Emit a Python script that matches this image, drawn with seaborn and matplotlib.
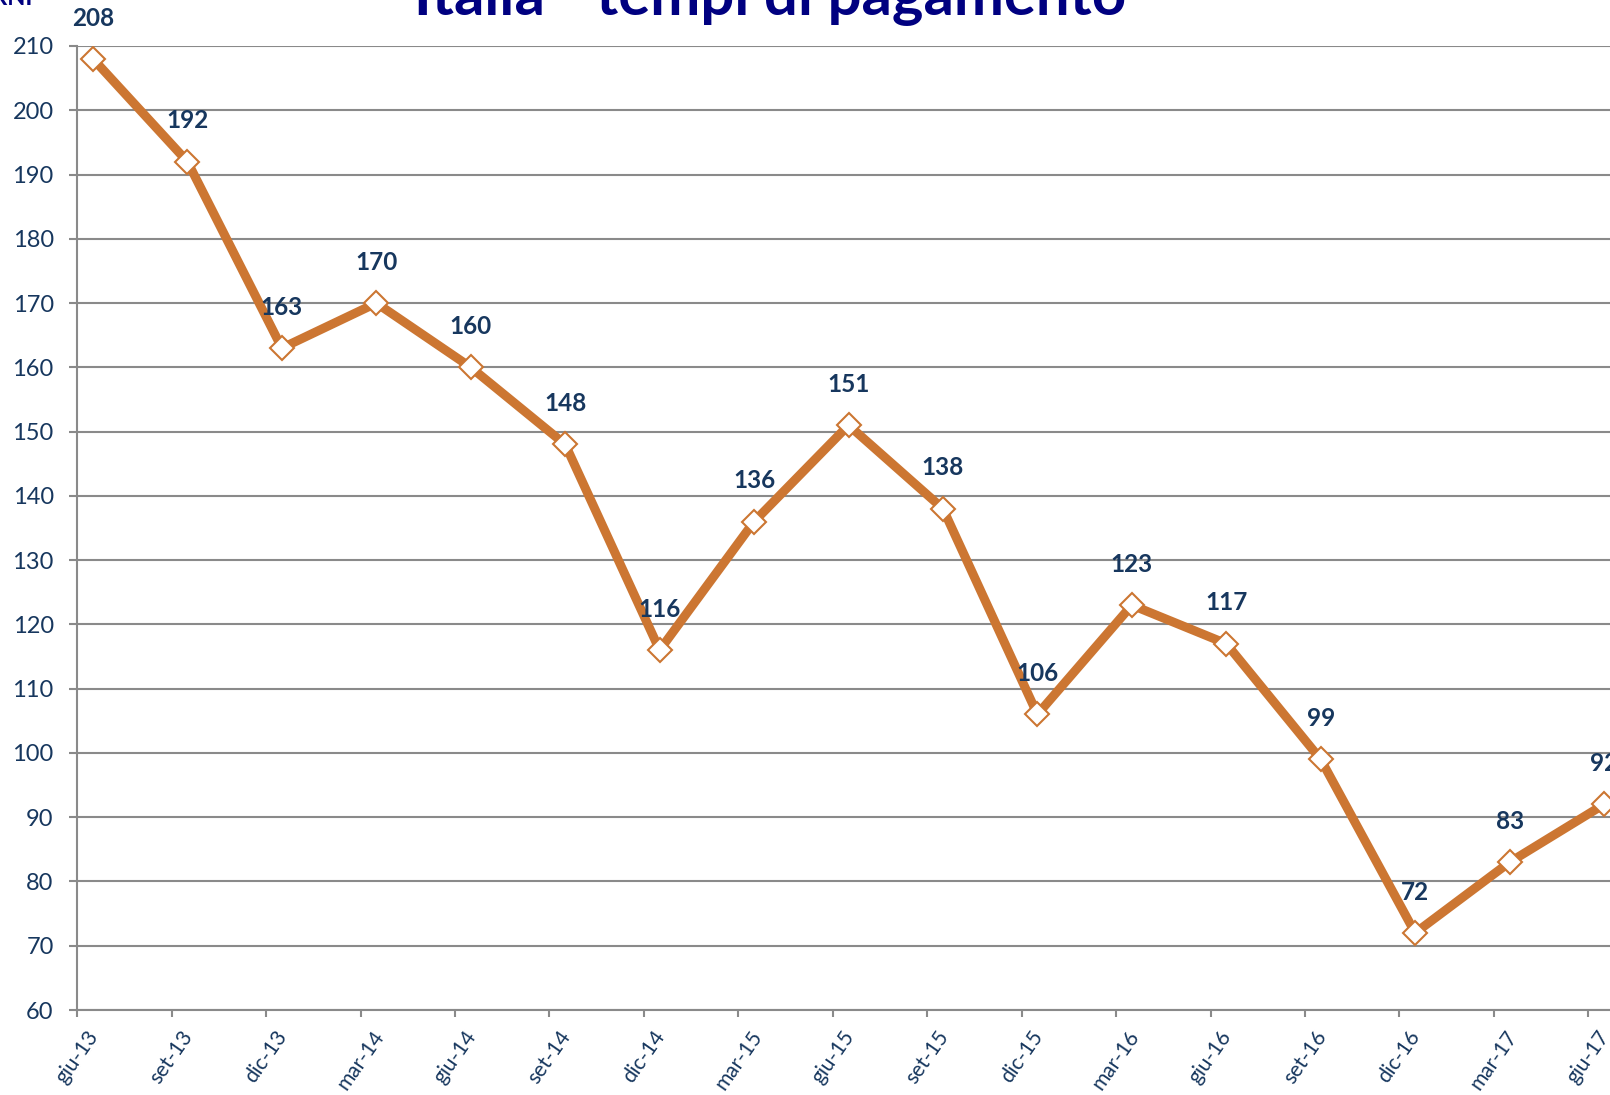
import numpy as np
import pandas as pd
import matplotlib
matplotlib.use("Agg")
import matplotlib.pyplot as plt
import seaborn as sns

# quarterly observations (Italian month abbreviations)
periodi = ['giu-13', 'set-13', 'dic-13', 'mar-14', 'giu-14', 'set-14', 'dic-14',
           'mar-15', 'giu-15', 'set-15', 'dic-15', 'mar-16', 'giu-16', 'set-16',
           'dic-16', 'mar-17', 'giu-17']
giorni = [208, 192, 163, 170, 160, 148, 116, 136, 151, 138, 106, 123, 117, 99, 72, 83, 92]
y_ticks = [60, 70, 80, 90, 100, 110, 120, 130, 140, 150, 160, 170, 180, 190, 200, 210]

ORANGE = '#CC7632'
NAVY = '#17375E'
GRID = '#8A8A8A'

# monthly date axis: one tick every 3 months, points sit in the middle of their month
mese = np.arange(len(periodi)) * 3
df = pd.DataFrame({'mese': mese + 0.5, 'giorni': giorni, 'periodo': periodi})

sns.set_style('white')
plt.rcParams['font.family'] = ['Lato', 'DejaVu Sans']

fig = plt.figure(figsize=(16.1, 10.95), dpi=100)
ax = fig.add_axes([0.048, 0.0776, 0.9972, 0.8804])

sns.lineplot(data=df, x='mese', y='giorni', ax=ax, color=ORANGE, linewidth=6.5,
             marker='D', markersize=12, markerfacecolor='white',
             markeredgecolor=ORANGE, markeredgewidth=1.5, solid_joinstyle='round')

for _, r in df.iterrows():
    ax.annotate(str(r['giorni']), (r['mese'], r['giorni']), xytext=(0, 24),
                textcoords='offset points', ha='center', va='baseline',
                fontsize=17.5, fontweight='bold', color=NAVY, annotation_clip=False)

ax.set_xlim(0, 51)
ax.set_ylim(60, 210)
ax.set_yticks(y_ticks)
ax.set_xticks(mese)
ax.set_xticklabels(periodi, rotation=55, ha='center', fontsize=15, color=NAVY)
ax.tick_params(axis='y', labelsize=17, labelcolor=NAVY, length=6, width=1.5,
               color=GRID, pad=11, direction='out', left=True)
ax.tick_params(axis='x', length=5, width=1.5, color=GRID, pad=7,
               direction='out', bottom=True)
ax.yaxis.grid(True, color=GRID, linewidth=1.5)
ax.set_axisbelow(True)
for s in ['top', 'right']:
    ax.spines[s].set_visible(False)
for s in ['left', 'bottom']:
    ax.spines[s].set_color(GRID)
    ax.spines[s].set_linewidth(1.5)
ax.set_xlabel('')
ax.set_ylabel('')

fig.text(770 / 1610, 1 - 15 / 1095, 'Italia - tempi di pagamento', ha='center',
         va='baseline', fontsize=43, fontweight='bold', color='#000080')
fig.text(32 / 1610, 1 - 5 / 1095, 'GIORNI', ha='right', va='baseline',
         fontsize=17, fontweight='bold', color='#000080')

fig.savefig('out.png', dpi=100)
